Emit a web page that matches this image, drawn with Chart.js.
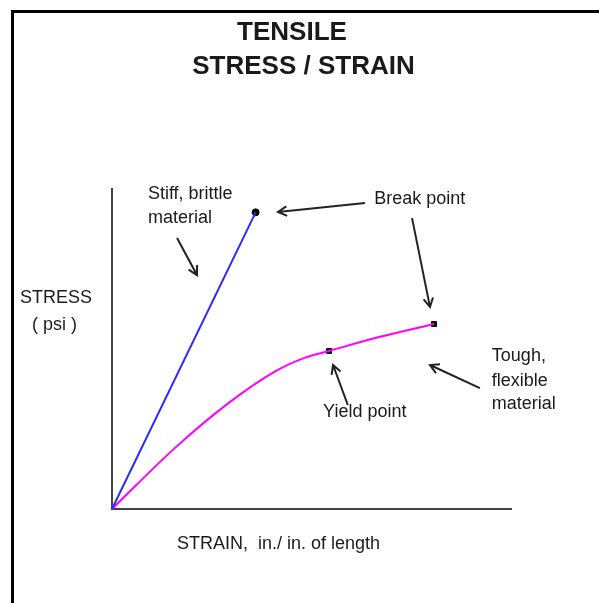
<!doctype html>
<html lang="en">
<head>
  <meta charset="utf-8">
  <title>Tensile Stress / Strain</title>
  <script src="https://cdn.jsdelivr.net/npm/chart.js@4.4.0/dist/chart.umd.min.js"></script>
  <style>
    html, body { margin: 0; padding: 0; background: #fff; }
    #wrap { width: 599px; height: 603px; }
  </style>
</head>
<body>
  <div id="wrap">
    <canvas id="myChart" width="599" height="603"></canvas>
  </div>
  <script>
// stiff, brittle material (straight line up to break)
var brittleStrain = [0, 36.0];
var brittleStress = [0, 92.7];

// tough, flexible material
var toughStrain = [0, 15.8, 29.1, 40.9, 48.4, 54.4, 67.2, 80.7];
var toughStress = [0, 19.1, 33.0, 43.0, 47.3, 49.4, 53.8, 57.8];

// marked points: brittle break, yield point, tough break
var keyStrain = [36.0, 54.4, 80.7];
var keyStress = [92.7, 49.4, 57.8];
var keyStyle = ["circle", "rect", "rect"];

var titleLines = ["TENSILE", "STRESS / STRAIN"];
var yLabel = ["STRESS", "( psi )"];
var xLabel = "STRAIN,  in./ in. of length";

// notes placed in chart units
var notes = [
  { text: "Stiff, brittle", x: 9.0, y: 98.4 },
  { text: "material", x: 9.0, y: 90.9 },
  { text: "Break point", x: 65.7, y: 96.9 },
  { text: "Yield point", x: 52.9, y: 30.3 },
  { text: "Tough,", x: 95.2, y: 47.8 },
  { text: "flexible", x: 95.2, y: 40.0 },
  { text: "material", x: 95.2, y: 32.8 }
];
var arrows = [
  { from: [16.3, 84.7], to: [21.3, 73.1] },
  { from: [63.4, 95.6], to: [41.6, 92.8] },
  { from: [75.2, 90.9], to: [79.7, 63.1] },
  { from: [59.1, 32.5], to: [55.4, 45.0] },
  { from: [92.2, 37.8], to: [79.7, 45.0] }
];

function pts(xs, ys) {
  return xs.map(function (x, i) { return { x: x, y: ys[i] }; });
}

function arrow(ctx, x1, y1, x2, y2) {
  var a = Math.atan2(y2 - y1, x2 - x1);
  var len = 10, spread = 0.5;
  ctx.beginPath();
  ctx.moveTo(x1, y1);
  ctx.lineTo(x2, y2);
  ctx.moveTo(x2 - len * Math.cos(a - spread), y2 - len * Math.sin(a - spread));
  ctx.lineTo(x2, y2);
  ctx.lineTo(x2 - len * Math.cos(a + spread), y2 - len * Math.sin(a + spread));
  ctx.stroke();
}

var notesPlugin = {
  id: "notes",
  afterDraw: function (chart) {
    var ctx = chart.ctx;
    var xs = chart.scales.x, ys = chart.scales.y;
    var area = chart.chartArea;
    ctx.save();

    // frame (top and left only)
    ctx.strokeStyle = "#000";
    ctx.lineWidth = 3;
    ctx.beginPath();
    ctx.moveTo(12.5, 603);
    ctx.lineTo(12.5, 11.5);
    ctx.lineTo(599, 11.5);
    ctx.stroke();

    ctx.fillStyle = "#1a1a1a";
    ctx.textBaseline = "middle";

    // title
    ctx.textAlign = "center";
    ctx.font = "bold 26px 'Liberation Sans', Arial, sans-serif";
    ctx.fillText(titleLines[0], 292, 33);
    ctx.fillText(titleLines[1], 303.5, 67);

    // axis labels
    ctx.textAlign = "left";
    ctx.font = "18px 'Liberation Sans', Arial, sans-serif";
    ctx.fillText(yLabel[0], 20, 298);
    ctx.fillText(yLabel[1], 32, 325);
    ctx.fillText(xLabel, area.left + 65, area.bottom + 35);

    notes.forEach(function (n) {
      ctx.fillText(n.text, xs.getPixelForValue(n.x), ys.getPixelForValue(n.y));
    });

    ctx.strokeStyle = "#222";
    ctx.lineWidth = 2;
    arrows.forEach(function (a) {
      arrow(ctx,
        xs.getPixelForValue(a.from[0]), ys.getPixelForValue(a.from[1]),
        xs.getPixelForValue(a.to[0]), ys.getPixelForValue(a.to[1]));
    });
    ctx.restore();
  }
};

var ctx = document.getElementById("myChart").getContext("2d");
var chart = new Chart(ctx, {
  type: "line",
  data: {
    datasets: [
      {
        label: "Stiff, brittle material",
        data: pts(brittleStrain, brittleStress),
        borderColor: "#2b2bff",
        borderWidth: 2,
        pointRadius: 0,
        tension: 0
      },
      {
        label: "Tough, flexible material",
        data: pts(toughStrain, toughStress),
        borderColor: "#ff00ff",
        borderWidth: 2,
        pointRadius: 0,
        cubicInterpolationMode: "monotone"
      },
      {
        type: "scatter",
        label: "points",
        data: pts(keyStrain, keyStress),
        pointStyle: keyStyle,
        pointRadius: 3.5,
        backgroundColor: "#000",
        borderColor: "#000"
      }
    ]
  },
  options: {
    responsive: false,
    animation: false,
    clip: false,
    layout: { padding: { left: 112, right: 88, top: 189, bottom: 94 } },
    plugins: { legend: { display: false }, tooltip: { enabled: false } },
    scales: {
      x: {
        type: "linear", min: 0, max: 100,
        grid: { display: false, drawTicks: false },
        ticks: { display: false },
        border: { display: true, color: "#444", width: 2 }
      },
      y: {
        type: "linear", min: 0, max: 100,
        grid: { display: false, drawTicks: false },
        ticks: { display: false },
        border: { display: true, color: "#444", width: 2 }
      }
    }
  },
  plugins: [notesPlugin]
});
  </script>
</body>
</html>
